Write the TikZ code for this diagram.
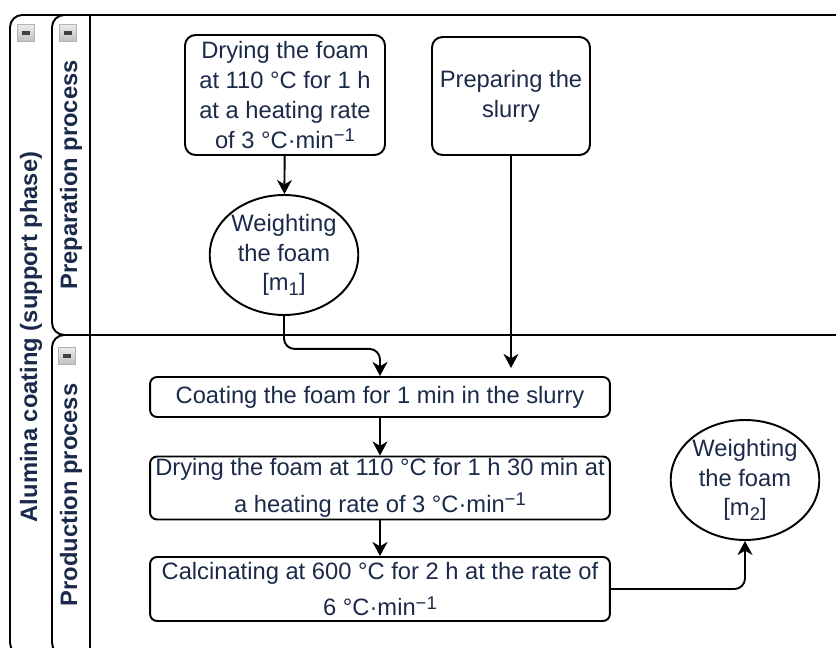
\documentclass[tikz,border=0pt]{standalone}
\usepackage{fontspec}
\setmainfont{Liberation Sans}
\usetikzlibrary{arrows.meta,shapes.geometric}
\definecolor{inkblue}{HTML}{1B2A4A}
\newcommand{\perminute}{°C·min\raisebox{0.55ex}{\fontsize{10.5}{10}\selectfont −1}}
\newcommand{\massidx}[1]{{[}m\raisebox{-0.4ex}{\fontsize{10.5}{10}\selectfont #1}{]}}
\tikzset{
  box/.style={draw, line width=1.1pt, rounded corners=6pt, align=center, inner sep=0pt,
    text=inkblue, font=\fontsize{13.5}{17}\selectfont},
  widebox/.style={box, rounded corners=4pt, minimum width=9.2cm, font=\fontsize{13.5}{21}\selectfont},
  weigh/.style={box, ellipse, minimum height=2.4cm},
  flow/.style={-{Stealth[length=8pt,width=8.5pt,inset=2.5pt]}, line width=1.1pt},
  band/.style={line width=1.1pt},
  bandname/.style={rotate=90, text=inkblue, font=\fontsize{13.5}{16}\bfseries},
  collapse/.style={draw=gray!60, line width=0.5pt, top color=gray!15, bottom color=gray!50,
    minimum width=0.34cm, minimum height=0.34cm, inner sep=0pt,
    path picture={\draw[line width=1.8pt, black!75]
      ([xshift=2.5pt]path picture bounding box.center -| path picture bounding box.west) --
      ([xshift=-2.5pt]path picture bounding box.center -| path picture bounding box.east);}}
}
\begin{document}
\begin{tikzpicture}[x=0.02cm, y=-0.02cm]
    \useasboundingbox (0,0) rectangle (836,648);
    \clip (0,0) rectangle (836,648);
    % pool and lanes
    \draw[band, rounded corners=7pt] (900,15) -- (10,15) -- (10,655) -- (900,655);
    \draw[band, rounded corners=7pt] (90,15) -- (52,15) -- (52,335) -- (90,335);
    \draw[band, rounded corners=7pt] (90,335) -- (52,335) -- (52,655) -- (90,655);
    \draw[band] (90,15) -- (90,655);
    \draw[band] (90,335) -- (900,335);
    \node[bandname] (poolname) at (31,337) {Alumina coating (support phase)};
    \node[bandname] (prepname) at (71,175) {Preparation process};
    \node[bandname] (prodname) at (71,495) {Production process};
    \foreach \n/\x/\y in {pool/26/33, prep/68/33, prod/67/356}
      \node[collapse] (minus-\n) at (\x,\y) {};
    % preparation
    \node[box, minimum width=4cm, minimum height=2.4cm] (dry1) at (285,95)
      {Drying the foam\\at 110 °C for 1 h\\at a heating rate\\of 3 \perminute};
    \node[box, minimum width=3.16cm, minimum height=2.36cm] (slurry) at (511,96)
      {Preparing the\\slurry};
    \node[weigh, minimum width=2.96cm] (w1) at (284,255)
      {Weighting\\the foam\\\massidx{1}};
    % production
    \node[widebox, minimum height=0.8cm] (coat) at (380,397)
      {Coating the foam for 1 min in the slurry};
    \node[widebox, minimum height=1.26cm] (dry2) at (380,488)
      {Drying the foam at 110 °C for 1 h 30 min at\\a heating rate of 3 \perminute};
    \node[widebox, minimum height=1.28cm] (calc) at (380,589)
      {Calcinating at 600 °C for 2 h at the rate of\\6 \perminute};
    \node[weigh, minimum width=2.76cm] (w2) at (745,480)
      {Weighting\\the foam\\\massidx{2}};
    \coordinate (slurryin) at (511,368);
    % connectors
    \draw[flow] (dry1) -- (w1);
    \draw[flow, rounded corners=6pt] (w1.south) -- ++(0,33) -| (coat.north);
    \draw[flow] (slurry.south) -- (slurryin);
    \draw[flow] (coat) -- (dry2);
    \draw[flow] (dry2) -- (calc);
    \draw[flow, rounded corners=6pt] (calc.east) -| (w2.south);
\end{tikzpicture}
\end{document}
